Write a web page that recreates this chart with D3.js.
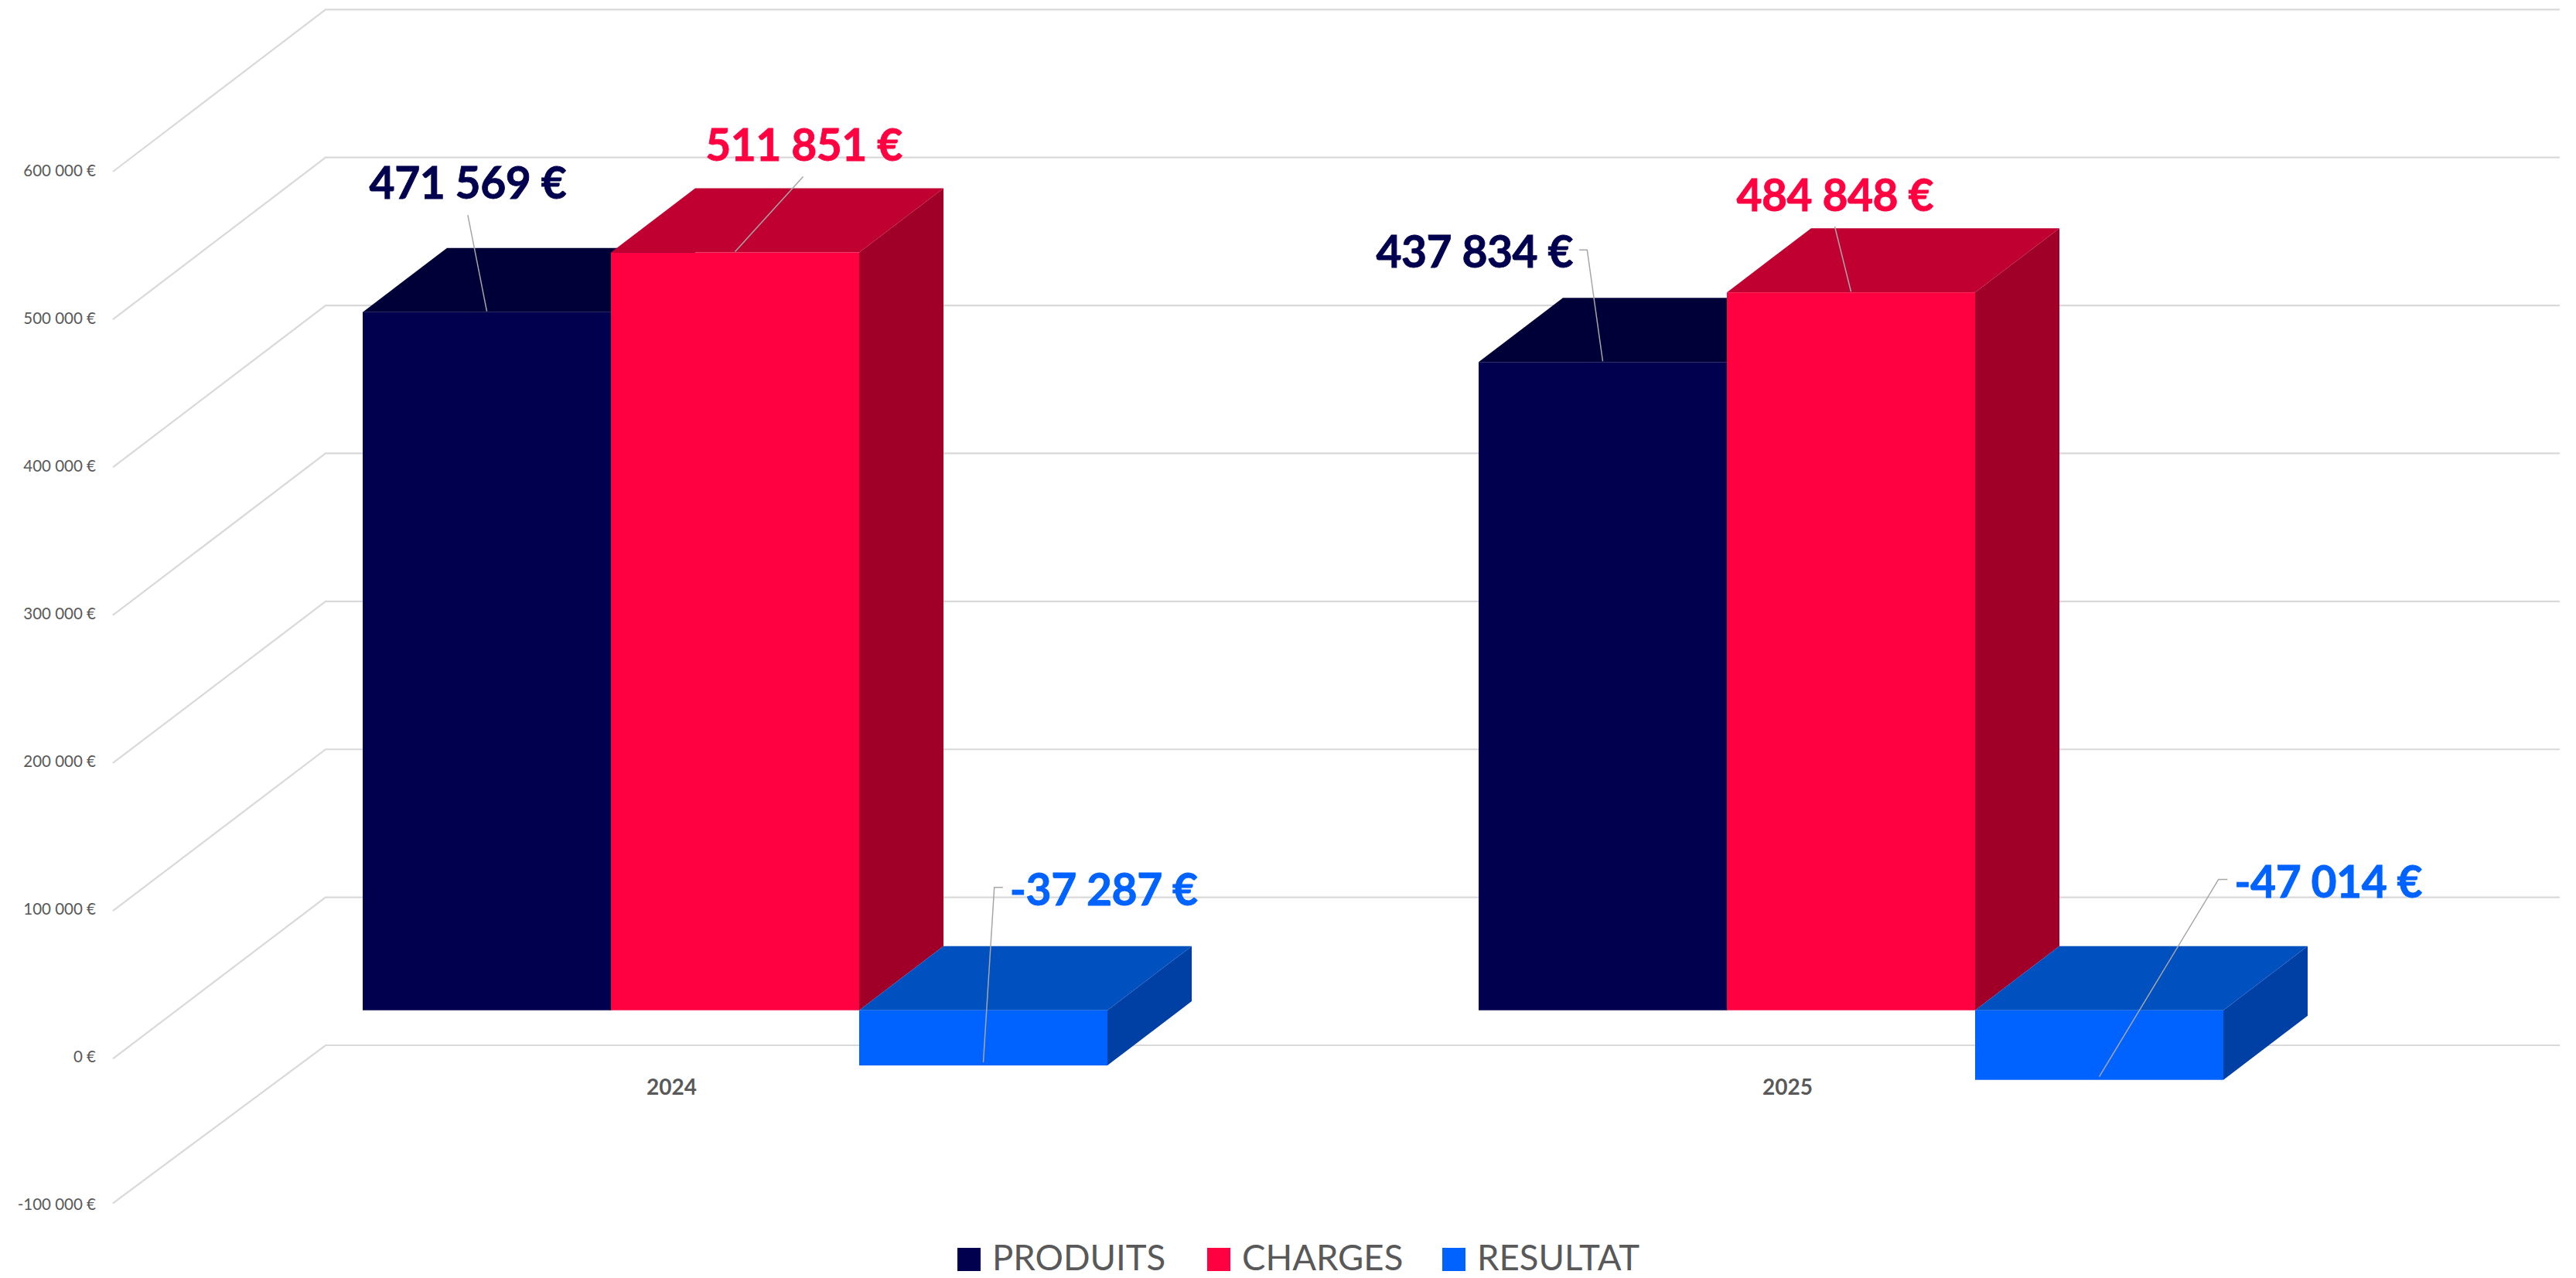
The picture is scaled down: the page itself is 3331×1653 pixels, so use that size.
<!DOCTYPE html>
<html>
<head>
<meta charset="utf-8">
<script src="https://cdn.jsdelivr.net/npm/d3@7"></script>
<style>
    html, body { margin: 0; padding: 0; background: #fff; }
    svg { display: block; }
    text { font-family: Lato, "Open Sans", sans-serif; }
</style>
</head>
<body>
<div id="chart"></div>
<script>
var categories = ["2024", "2025"];
var seriesNames = ["PRODUITS", "CHARGES", "RESULTAT"];
var produits = [471569, 437834];
var charges = [511851, 484848];
var resultat = [-37287, -47014];
var tickValues = [-100000, 0, 100000, 200000, 300000, 400000, 500000, 600000];

var seriesValues = [produits, charges, resultat];
var frontColors = ["#00004f", "#ff0040", "#0062ff"];
var topColors = ["#000038", "#bf0030", "#0050c0"];
var sideColors = ["#00002e", "#a00028", "#0040a4"];

var width = 3331;
var height = 1653;
var depthX = 109; // how far a bar goes right and up for its depth
var depthY = 83;
var wallLeft = 421;
var wallRight = 3310;
var floorFront = 146;

// offsets of the data labels and leader lines from the bar they belong to
var labelOffsets = [
    [[-24.6, -167.6], [-165.75, -143.3]],
    [[89, -139.5], [-20.75, -126.5]],
    [[155.75, -228], [296.25, -257.2]]
];
var leaderOffsets = [
    [[[-24.6, -125.6]], [[-30.35, -145], [-20.15, -145]]],
    [[[88, -98]], [[-21, -85.2]]],
    [[[25.25, -230.4], [14.25, -230.4]], [[165.85, -259.3], [154.25, -259.3]]]
];

var euro = d3.formatLocale({
    decimal: ",",
    thousands: " ",
    grouping: [3],
    currency: ["", " €"],
    minus: "-"
}).format("$,");

var svg = d3.select("#chart")
    .append("svg")
    .attr("width", width)
    .attr("height", height);

// gridlines live on the back wall and run down the left wall to the front
var yBack = d3.scaleLinear().domain([-100000, 600000]).range([1352, 12.3]);
var yFront = d3.scaleLinear().domain([-100000, 0, 600000]).range([1556.3, 1369.3, 222]);
var yLabel = d3.scaleLinear().domain([-100000, 600000]).range([1558.2, 221.2]);
var yBar = d3.scaleLinear().domain([-100000, 600000]).range([1498.2, 157.7]);

var xCategory = d3.scaleBand().domain(categories).range([229, 3115]);
var barsWidth = 963;
var xSeries = d3.scaleBand().domain(seriesNames).range([0, barsWidth]);

function barLeft(s, c) {
    return xCategory(categories[c]) + (xCategory.bandwidth() - barsWidth) / 2 + xSeries(seriesNames[s]);
}

svg.append("g")
    .selectAll("polyline")
    .data(tickValues)
    .enter().append("polyline")
    .attr("points", function(d) {
        return [[floorFront, yFront(d)], [wallLeft, yBack(d)], [wallRight, yBack(d)]].join(" ");
    })
    .attr("fill", "none")
    .attr("stroke", "#d9d9d9")
    .attr("stroke-width", 2.2);

var yAxis = d3.axisLeft(yLabel)
    .tickValues(tickValues)
    .tickFormat(euro)
    .tickSize(0)
    .tickPadding(0);

var axisGroup = svg.append("g")
    .attr("transform", "translate(124,0)")
    .call(yAxis);
axisGroup.select(".domain").remove();
axisGroup.selectAll("text")
    .style("font-family", "Lato, 'Open Sans', sans-serif")
    .style("font-size", "20.5px")
    .attr("fill", "#595959");

// bars, painted left to right so the later ones cover the earlier ones
function drawBar(s, c) {
    var x0 = barLeft(s, c);
    var x1 = x0 + xSeries.bandwidth();
    var value = seriesValues[s][c];
    var yTop = yBar(Math.max(value, 0));
    var yBottom = yBar(Math.min(value, 0));
    var bar = svg.append("g");

    bar.append("polygon")
        .attr("points", [[x1, yTop], [x1 + depthX, yTop - depthY], [x1 + depthX, yBottom - depthY], [x1, yBottom]].join(" "))
        .attr("fill", sideColors[s]);
    bar.append("polygon")
        .attr("points", [[x0, yTop], [x0 + depthX, yTop - depthY], [x1 + depthX, yTop - depthY], [x1, yTop]].join(" "))
        .attr("fill", topColors[s]);
    bar.append("rect")
        .attr("x", x0)
        .attr("y", yTop)
        .attr("width", x1 - x0)
        .attr("height", yBottom - yTop)
        .attr("fill", frontColors[s]);
}

for (var c = 0; c < categories.length; c++) {
    for (var s = 0; s < seriesNames.length; s++) {
        drawBar(s, c);
    }
}

// category labels
svg.append("g")
    .selectAll("text")
    .data(categories)
    .enter().append("text")
    .attr("x", function(d) { return xCategory(d) + xCategory.bandwidth() / 2 - 82; })
    .attr("y", 1416)
    .attr("text-anchor", "middle")
    .attr("font-size", 28)
    .attr("font-weight", 700)
    .attr("fill", "#595959")
    .text(function(d) { return d; });

// leader lines and data labels go on top of everything
for (var c2 = 0; c2 < categories.length; c2++) {
    for (var s2 = 0; s2 < seriesNames.length; s2++) {
        var value2 = seriesValues[s2][c2];
        var anchorX = barLeft(s2, c2) + xSeries.bandwidth() / 2;
        var anchorY = yBar(value2);
        var points = leaderOffsets[s2][c2].map(function(p) {
            return [anchorX + p[0], anchorY + p[1]];
        });
        points.push([anchorX, value2 < 0 ? anchorY - 4 : anchorY - 1]);

        svg.append("polyline")
            .attr("points", points.join(" "))
            .attr("fill", "none")
            .attr("stroke", "#a6a6a6")
            .attr("stroke-width", 1.5);

        svg.append("text")
            .attr("x", anchorX + labelOffsets[s2][c2][0])
            .attr("y", anchorY + labelOffsets[s2][c2][1] + 21)
            .attr("text-anchor", "middle")
            .attr("font-size", 57)
            .attr("font-weight", 700)
            .attr("letter-spacing", -0.5)
            .attr("fill", frontColors[s2])
            .attr("stroke", frontColors[s2])
            .attr("stroke-width", 0.8)
            .text(euro(value2));
    }
}

// legend
var legendSwatchX = [1238, 1561, 1865];
var legend = svg.append("g")
    .selectAll("g")
    .data(seriesNames)
    .enter().append("g")
    .attr("transform", function(d, i) { return "translate(" + legendSwatchX[i] + ",1614)"; });

legend.append("rect")
    .attr("width", 30)
    .attr("height", 30)
    .attr("fill", function(d, i) { return frontColors[i]; });

legend.append("text")
    .attr("x", 45)
    .attr("y", 29)
    .attr("font-size", 45.5)
    .attr("fill", "#595959")
    .text(function(d) { return d; });
</script>
</body>
</html>
